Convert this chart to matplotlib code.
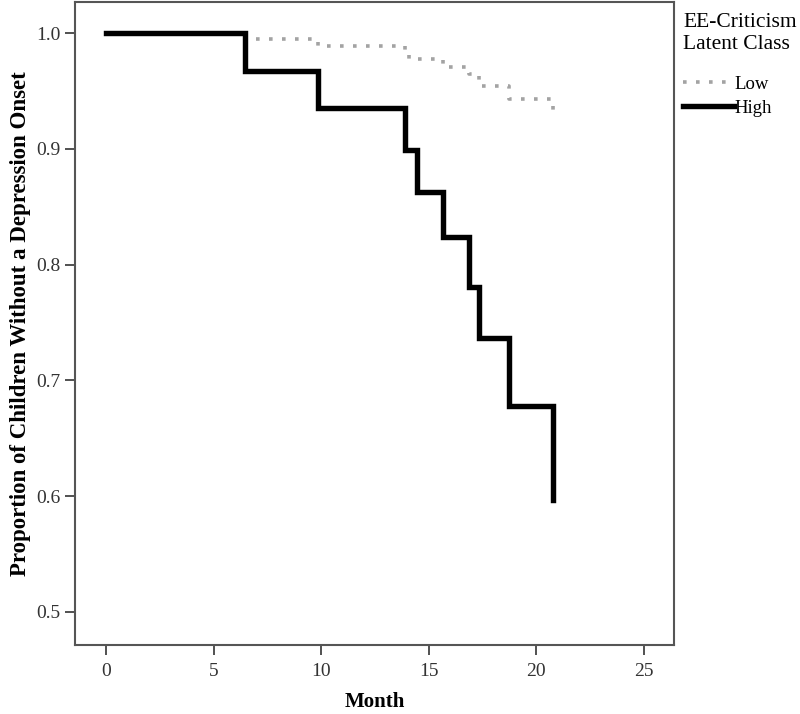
"""Survival curves: time to depression onset by EE-criticism latent class."""

import matplotlib

matplotlib.use("Agg")
import matplotlib.pyplot as plt

# Kaplan-Meier step values
high_months = [0, 6.46, 9.85, 13.9, 14.45, 15.66, 16.87, 17.33, 18.73, 20.77]
high_surv = [1.0, 0.967, 0.935, 0.899, 0.863, 0.824, 0.781, 0.737, 0.678, 0.597]

low_months = [0, 6.46, 9.85, 13.9, 14.1, 15.66, 16.87, 17.33, 18.73, 20.77]
low_surv = [1.0, 0.995, 0.989, 0.984, 0.978, 0.971, 0.965, 0.954, 0.943, 0.934]

x_ticks = [0, 5, 10, 15, 20, 25]
y_ticks = [0.5, 0.6, 0.7, 0.8, 0.9, 1.0]

plt.rcParams["font.family"] = ["Liberation Serif", "DejaVu Serif"]

fig = plt.figure(figsize=(8.0, 7.14), dpi=100)
ax = fig.add_axes([0.094, 0.097, 0.748, 0.900])

ax.step(low_months, low_surv, where="post", color="#a3a3a3", lw=2.6,
        linestyle=(0, (1, 2.6)), label="Low")
ax.step(high_months, high_surv, where="post", color="black", lw=3.9,
        solid_joinstyle="miter", label="High")

ax.set_xlim(-1.44, 26.4)
ax.set_ylim(0.4715, 1.0268)
ax.set_xticks(x_ticks)
ax.set_yticks(y_ticks)
ax.set_yticklabels([f"{v:.1f}" for v in y_ticks])
ax.tick_params(direction="out", length=7, width=1.2, color="#333333",
               labelsize=14, labelcolor="#333333", top=False, right=False)
ax.tick_params(axis="x", pad=6)

for s in ax.spines.values():
    s.set_color("#555555")
    s.set_linewidth(1.5)

ax.set_xlabel("Month", fontsize=15, fontweight="bold", labelpad=9)
ax.set_ylabel("Proportion of Children Without a Depression Onset",
              fontsize=16.5, fontweight="bold", labelpad=4)

leg = fig.legend(loc="upper left", bbox_to_anchor=(0.847, 0.99),
                 title="EE-Criticism\nLatent Class", frameon=False,
                 fontsize=13.5, title_fontsize=15.5, handlelength=2.7,
                 handletextpad=0.05, borderaxespad=0, labelspacing=0.35,
                 borderpad=0.3)
leg._legend_box.align = "left"
leg._legend_box.sep = 16

fig.savefig("out.png", dpi=100)
plt.close(fig)
